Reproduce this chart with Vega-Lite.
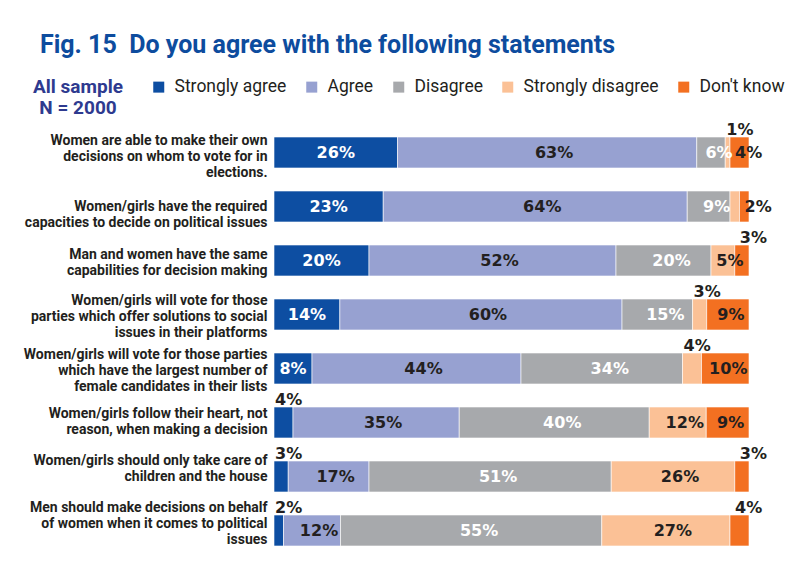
{
  "$schema": "https://vega.github.io/schema/vega-lite/v6.json",
  "width": 475,
  "height": 432,
  "autosize": "none",
  "padding": {"left": 274, "top": 125.5, "right": 38, "bottom": 29.5},
  "background": "#ffffff",
  "title": {
    "text": "Fig. 15\u00a0 Do you agree with the following statements",
    "anchor": "start",
    "frame": "group",
    "dx": -234,
    "offset": 20,
    "font": "Roboto",
    "fontSize": 25,
    "fontWeight": "bold",
    "color": "#0d4c9e"
  },
  "config": {
    "view": {"stroke": null},
    "axis": {"grid": false}
  },
  "data": {
    "values": [
      {"n": 1, "q": "Women are able to make their own|decisions on whom to vote for in|elections.", "cat": "Strongly agree", "v": 26},
      {"n": 1, "q": "Women are able to make their own|decisions on whom to vote for in|elections.", "cat": "Agree", "v": 63},
      {"n": 1, "q": "Women are able to make their own|decisions on whom to vote for in|elections.", "cat": "Disagree", "v": 6},
      {"n": 1, "q": "Women are able to make their own|decisions on whom to vote for in|elections.", "cat": "Strongly disagree", "v": 1},
      {"n": 1, "q": "Women are able to make their own|decisions on whom to vote for in|elections.", "cat": "Don't know", "v": 4},
      {"n": 2, "q": "Women/girls have the required|capacities to decide on political issues", "cat": "Strongly agree", "v": 23},
      {"n": 2, "q": "Women/girls have the required|capacities to decide on political issues", "cat": "Agree", "v": 64},
      {"n": 2, "q": "Women/girls have the required|capacities to decide on political issues", "cat": "Disagree", "v": 9},
      {"n": 2, "q": "Women/girls have the required|capacities to decide on political issues", "cat": "Strongly disagree", "v": 2},
      {"n": 2, "q": "Women/girls have the required|capacities to decide on political issues", "cat": "Don't know", "v": 2},
      {"n": 3, "q": "Man and women have the same|capabilities for decision making", "cat": "Strongly agree", "v": 20},
      {"n": 3, "q": "Man and women have the same|capabilities for decision making", "cat": "Agree", "v": 52},
      {"n": 3, "q": "Man and women have the same|capabilities for decision making", "cat": "Disagree", "v": 20},
      {"n": 3, "q": "Man and women have the same|capabilities for decision making", "cat": "Strongly disagree", "v": 5},
      {"n": 3, "q": "Man and women have the same|capabilities for decision making", "cat": "Don't know", "v": 3},
      {"n": 4, "q": "Women/girls will vote for those|parties which offer solutions to social|issues in their platforms", "cat": "Strongly agree", "v": 14},
      {"n": 4, "q": "Women/girls will vote for those|parties which offer solutions to social|issues in their platforms", "cat": "Agree", "v": 60},
      {"n": 4, "q": "Women/girls will vote for those|parties which offer solutions to social|issues in their platforms", "cat": "Disagree", "v": 15},
      {"n": 4, "q": "Women/girls will vote for those|parties which offer solutions to social|issues in their platforms", "cat": "Strongly disagree", "v": 3},
      {"n": 4, "q": "Women/girls will vote for those|parties which offer solutions to social|issues in their platforms", "cat": "Don't know", "v": 9},
      {"n": 5, "q": "Women/girls will vote for those parties|which have the largest number of|female candidates in their lists", "cat": "Strongly agree", "v": 8},
      {"n": 5, "q": "Women/girls will vote for those parties|which have the largest number of|female candidates in their lists", "cat": "Agree", "v": 44},
      {"n": 5, "q": "Women/girls will vote for those parties|which have the largest number of|female candidates in their lists", "cat": "Disagree", "v": 34},
      {"n": 5, "q": "Women/girls will vote for those parties|which have the largest number of|female candidates in their lists", "cat": "Strongly disagree", "v": 4},
      {"n": 5, "q": "Women/girls will vote for those parties|which have the largest number of|female candidates in their lists", "cat": "Don't know", "v": 10},
      {"n": 6, "q": "Women/girls follow their heart, not|reason, when making a decision", "cat": "Strongly agree", "v": 4},
      {"n": 6, "q": "Women/girls follow their heart, not|reason, when making a decision", "cat": "Agree", "v": 35},
      {"n": 6, "q": "Women/girls follow their heart, not|reason, when making a decision", "cat": "Disagree", "v": 40},
      {"n": 6, "q": "Women/girls follow their heart, not|reason, when making a decision", "cat": "Strongly disagree", "v": 12},
      {"n": 6, "q": "Women/girls follow their heart, not|reason, when making a decision", "cat": "Don't know", "v": 9},
      {"n": 7, "q": "Women/girls should only take care of|children and the house", "cat": "Strongly agree", "v": 3},
      {"n": 7, "q": "Women/girls should only take care of|children and the house", "cat": "Agree", "v": 17},
      {"n": 7, "q": "Women/girls should only take care of|children and the house", "cat": "Disagree", "v": 51},
      {"n": 7, "q": "Women/girls should only take care of|children and the house", "cat": "Strongly disagree", "v": 26},
      {"n": 7, "q": "Women/girls should only take care of|children and the house", "cat": "Don't know", "v": 3},
      {"n": 8, "q": "Men should make decisions on behalf|of women when it comes to political|issues", "cat": "Strongly agree", "v": 2},
      {"n": 8, "q": "Men should make decisions on behalf|of women when it comes to political|issues", "cat": "Agree", "v": 12},
      {"n": 8, "q": "Men should make decisions on behalf|of women when it comes to political|issues", "cat": "Disagree", "v": 55},
      {"n": 8, "q": "Men should make decisions on behalf|of women when it comes to political|issues", "cat": "Strongly disagree", "v": 27},
      {"n": 8, "q": "Men should make decisions on behalf|of women when it comes to political|issues", "cat": "Don't know", "v": 4}
    ]
  },
  "transform": [
    {"calculate": "indexof(['Strongly agree','Agree','Disagree','Strongly disagree',\"Don't know\"], datum.cat)", "as": "k"},
    {"stack": "v", "groupby": ["q"], "sort": [{"field": "k", "order": "ascending"}], "offset": "normalize", "as": ["x0", "x1"]},
    {"calculate": "(datum.x0 + datum.x1) / 2", "as": "mid"},
    {"calculate": "datum.v + '%'", "as": "lab"}
  ],
  "layer": [
    {
      "mark": {"type": "bar", "stroke": "#ffffff", "strokeWidth": 0.6},
      "encoding": {
        "y": {
          "field": "q", "type": "nominal", "sort": {"field": "n", "op": "min"},
          "scale": {"paddingInner": 0.426, "paddingOuter": 0.213},
          "axis": {
            "title": null, "labelExpr": "split(datum.label, '|')",
            "labelFont": "Roboto", "labelFontSize": 14, "labelFontWeight": "bold",
            "labelColor": "#231f20", "labelPadding": 7, "labelLineHeight": 16,
            "labelLimit": 400, "ticks": false, "domain": false, "labelOverlap": false,
            "labelOffset": {
              "condition": [
                {"test": "indexof(datum.value, 'Women/girls have') == 0", "value": 0},
                {"test": "indexof(datum.value, 'Women are able') == 0", "value": -12},
                {"test": "indexof(datum.value, 'Man and women') == 0", "value": -5.5},
                {"test": "indexof(datum.value, 'Women/girls should') == 0", "value": -16},
                {"test": "indexof(datum.value, 'Men should') == 0", "value": -22.5},
                {"test": "length(split(datum.value, '|')) == 3", "value": -14}
              ],
              "value": -9
            }
          }
        },
        "x": {"field": "x0", "type": "quantitative", "scale": {"domain": [0, 1], "nice": false}, "axis": null},
        "x2": {"field": "x1"},
        "color": {
          "field": "cat", "type": "nominal",
          "scale": {
            "domain": ["Strongly agree", "Agree", "Disagree", "Strongly disagree", "Don't know"],
            "range": ["#0d4ea2", "#97a1d1", "#a7a9ac", "#fbc196", "#f37021"]
          },
          "legend": {
            "orient": "none", "legendX": -241, "legendY": -47.5, "direction": "horizontal",
            "title": ["All sample", "N = 2000"], "titleOrient": "left",
            "titleAnchor": "start", "titleBaseline": "top",
            "titleFont": "Roboto", "titleFontSize": 19, "titleFontWeight": "bold",
            "titleColor": "#2e3a8f", "titleAlign": "center", "titlePadding": -18, "titleLineHeight": 21,
            "symbolType": "square", "symbolSize": 121, "symbolStrokeWidth": 0, "symbolOpacity": 1,
            "labelFont": "Roboto", "labelFontSize": 17.5, "labelColor": "#231f20",
            "labelOffset": 7, "columnPadding": 16, "labelLimit": 300
          }
        }
      }
    },
    {
      "transform": [{"filter": "datum.cat == 'Strongly agree' && datum.v >= 5"}],
      "mark": {"type": "text", "font": "DejaVu Sans", "fontWeight": "bold", "fontSize": 16, "color": "#ffffff", "baseline": "middle"},
      "encoding": {
        "y": {"field": "q", "type": "nominal", "sort": {"field": "n", "op": "min"}},
        "x": {"field": "mid", "type": "quantitative", "scale": {"domain": [0, 1], "nice": false}},
        "text": {"field": "lab"}
      }
    },
    {
      "transform": [{"filter": "datum.cat == 'Disagree' && datum.v >= 5"}],
      "mark": {"type": "text", "font": "DejaVu Sans", "fontWeight": "bold", "fontSize": 16, "color": "#ffffff", "baseline": "middle", "dx": 8},
      "encoding": {
        "y": {"field": "q", "type": "nominal", "sort": {"field": "n", "op": "min"}},
        "x": {"field": "mid", "type": "quantitative", "scale": {"domain": [0, 1], "nice": false}},
        "text": {"field": "lab"}
      }
    },
    {
      "transform": [{"filter": "(datum.cat == 'Agree' || datum.cat == 'Strongly disagree') && datum.v >= 5"}],
      "mark": {"type": "text", "font": "DejaVu Sans", "fontWeight": "bold", "fontSize": 16, "color": "#231f20", "baseline": "middle", "dx": 7},
      "encoding": {
        "y": {"field": "q", "type": "nominal", "sort": {"field": "n", "op": "min"}},
        "x": {"field": "mid", "type": "quantitative", "scale": {"domain": [0, 1], "nice": false}},
        "text": {"field": "lab"}
      }
    },
    {
      "transform": [{"filter": "datum.cat == \"Don't know\" && datum.v >= 5"}],
      "mark": {"type": "text", "font": "DejaVu Sans", "fontWeight": "bold", "fontSize": 16, "color": "#231f20", "baseline": "middle", "dx": 3},
      "encoding": {
        "y": {"field": "q", "type": "nominal", "sort": {"field": "n", "op": "min"}},
        "x": {"field": "mid", "type": "quantitative", "scale": {"domain": [0, 1], "nice": false}},
        "text": {"field": "lab"}
      }
    },
    {
      "transform": [{"filter": "datum.cat != \"Don't know\" && datum.v <= 4 && !(datum.n == 2 && datum.cat == 'Strongly disagree')"}],
      "mark": {"type": "text", "font": "DejaVu Sans", "fontWeight": "bold", "fontSize": 16, "color": "#231f20", "baseline": "alphabetic", "align": "left", "dx": 1, "dy": -2},
      "encoding": {
        "y": {"field": "q", "type": "nominal", "sort": {"field": "n", "op": "min"}, "bandPosition": 0},
        "x": {"field": "x0", "type": "quantitative", "scale": {"domain": [0, 1], "nice": false}},
        "text": {"field": "lab"}
      }
    },
    {
      "transform": [{"filter": "datum.cat == \"Don't know\" && datum.v <= 4 && datum.n >= 3"}],
      "mark": {"type": "text", "font": "DejaVu Sans", "fontWeight": "bold", "fontSize": 16, "color": "#231f20", "baseline": "alphabetic", "align": "left", "dx": 5, "dy": -2},
      "encoding": {
        "y": {"field": "q", "type": "nominal", "sort": {"field": "n", "op": "min"}, "bandPosition": 0},
        "x": {"field": "x0", "type": "quantitative", "scale": {"domain": [0, 1], "nice": false}},
        "text": {"field": "lab"}
      }
    },
    {
      "transform": [{"filter": "datum.cat == \"Don't know\" && datum.v <= 4 && datum.n <= 2"}],
      "mark": {"type": "text", "font": "DejaVu Sans", "fontWeight": "bold", "fontSize": 16, "color": "#231f20", "baseline": "middle", "align": "left", "dx": 5},
      "encoding": {
        "y": {"field": "q", "type": "nominal", "sort": {"field": "n", "op": "min"}},
        "x": {"field": "x0", "type": "quantitative", "scale": {"domain": [0, 1], "nice": false}},
        "text": {"field": "lab"}
      }
    }
  ]
}
